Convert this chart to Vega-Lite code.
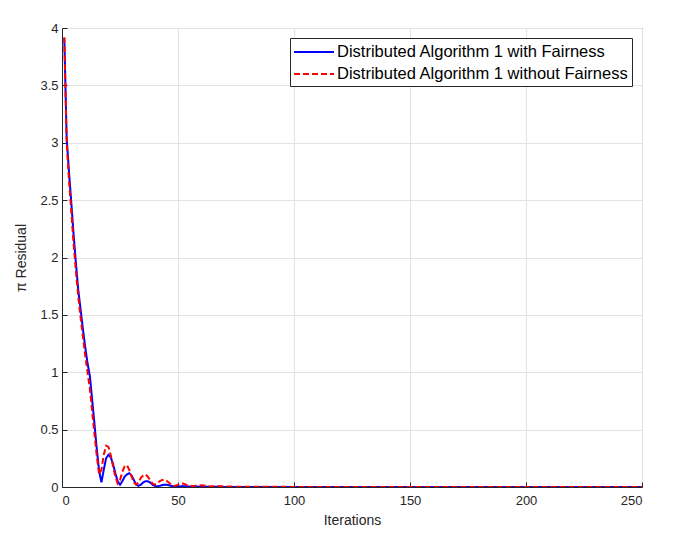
{
  "$schema": "https://vega.github.io/schema/vega-lite/v6.json",
  "autosize": {"type": "none"},
  "width": 580,
  "height": 459,
  "padding": {"left": 62, "top": 28, "right": 47, "bottom": 57},
  "background": "white",
  "config": {
    "font": "Liberation Sans",
    "view": {"stroke": "#262626", "strokeWidth": 1}
  },
  "data": {"values": [
      {"s":"A","it":1,"r":3.91},{"s":"A","it":2,"r":3.05},{"s":"A","it":3,"r":2.75},{"s":"A","it":4,"r":2.48},{"s":"A","it":5,"r":2.2},{"s":"A","it":6,"r":1.95},{"s":"A","it":7,"r":1.72},{"s":"A","it":8,"r":1.55},{"s":"A","it":9,"r":1.38},{"s":"A","it":10,"r":1.22},{"s":"A","it":11,"r":1.08},{"s":"A","it":12,"r":0.97},{"s":"A","it":13,"r":0.76},{"s":"A","it":14,"r":0.55},{"s":"A","it":15,"r":0.33},{"s":"A","it":16,"r":0.14},{"s":"A","it":17,"r":0.04},{"s":"A","it":18,"r":0.15},{"s":"A","it":19,"r":0.25},{"s":"A","it":20,"r":0.28},{"s":"A","it":21,"r":0.26},{"s":"A","it":22,"r":0.2},{"s":"A","it":23,"r":0.12},{"s":"A","it":24,"r":0.05},{"s":"A","it":25,"r":0.02},{"s":"A","it":26,"r":0.05},{"s":"A","it":27,"r":0.09},{"s":"A","it":28,"r":0.11},{"s":"A","it":29,"r":0.12},{"s":"A","it":30,"r":0.1},{"s":"A","it":31,"r":0.06},{"s":"A","it":32,"r":0.02},{"s":"A","it":33,"r":0.01},{"s":"A","it":34,"r":0.02},{"s":"A","it":35,"r":0.04},{"s":"A","it":36,"r":0.05},{"s":"A","it":37,"r":0.05},{"s":"A","it":38,"r":0.04},{"s":"A","it":39,"r":0.02},{"s":"A","it":40,"r":0.01},{"s":"A","it":41,"r":0.005},{"s":"A","it":42,"r":0.01},{"s":"A","it":43,"r":0.015},{"s":"A","it":44,"r":0.02},{"s":"A","it":45,"r":0.02},{"s":"A","it":46,"r":0.015},{"s":"A","it":47,"r":0.01},{"s":"A","it":48,"r":0.005},{"s":"A","it":50,"r":0.003},{"s":"A","it":52,"r":0.008},{"s":"A","it":55,"r":0.004},{"s":"A","it":60,"r":0.003},{"s":"A","it":70,"r":0.001},{"s":"A","it":100,"r":0},{"s":"A","it":150,"r":0},{"s":"A","it":200,"r":0},{"s":"A","it":250,"r":0},
      {"s":"B","it":1,"r":3.92},{"s":"B","it":2,"r":3.0},{"s":"B","it":3,"r":2.68},{"s":"B","it":4,"r":2.4},{"s":"B","it":5,"r":2.12},{"s":"B","it":6,"r":1.88},{"s":"B","it":7,"r":1.66},{"s":"B","it":8,"r":1.48},{"s":"B","it":9,"r":1.31},{"s":"B","it":10,"r":1.15},{"s":"B","it":11,"r":1.0},{"s":"B","it":12,"r":0.86},{"s":"B","it":13,"r":0.66},{"s":"B","it":14,"r":0.46},{"s":"B","it":15,"r":0.27},{"s":"B","it":16,"r":0.11},{"s":"B","it":17,"r":0.15},{"s":"B","it":18,"r":0.28},{"s":"B","it":19,"r":0.36},{"s":"B","it":20,"r":0.35},{"s":"B","it":21,"r":0.28},{"s":"B","it":22,"r":0.18},{"s":"B","it":23,"r":0.09},{"s":"B","it":24,"r":0.03},{"s":"B","it":25,"r":0.06},{"s":"B","it":26,"r":0.13},{"s":"B","it":27,"r":0.18},{"s":"B","it":28,"r":0.19},{"s":"B","it":29,"r":0.15},{"s":"B","it":30,"r":0.09},{"s":"B","it":31,"r":0.04},{"s":"B","it":32,"r":0.02},{"s":"B","it":33,"r":0.04},{"s":"B","it":34,"r":0.08},{"s":"B","it":35,"r":0.1},{"s":"B","it":36,"r":0.11},{"s":"B","it":37,"r":0.09},{"s":"B","it":38,"r":0.06},{"s":"B","it":39,"r":0.03},{"s":"B","it":40,"r":0.02},{"s":"B","it":41,"r":0.03},{"s":"B","it":42,"r":0.05},{"s":"B","it":43,"r":0.06},{"s":"B","it":44,"r":0.065},{"s":"B","it":45,"r":0.055},{"s":"B","it":46,"r":0.04},{"s":"B","it":47,"r":0.02},{"s":"B","it":48,"r":0.01},{"s":"B","it":49,"r":0.01},{"s":"B","it":50,"r":0.02},{"s":"B","it":51,"r":0.03},{"s":"B","it":52,"r":0.03},{"s":"B","it":53,"r":0.025},{"s":"B","it":54,"r":0.015},{"s":"B","it":56,"r":0.008},{"s":"B","it":58,"r":0.012},{"s":"B","it":60,"r":0.015},{"s":"B","it":62,"r":0.01},{"s":"B","it":64,"r":0.005},{"s":"B","it":67,"r":0.008},{"s":"B","it":70,"r":0.005},{"s":"B","it":75,"r":0.003},{"s":"B","it":80,"r":0.002},{"s":"B","it":100,"r":0.001},{"s":"B","it":150,"r":0},{"s":"B","it":250,"r":0}
  ]},
  "mark": {"type": "line", "strokeWidth": 2, "clip": true},
  "encoding": {
    "x": {"field": "it", "type": "quantitative", "scale": {"domain": [0, 250], "nice": false},
      "axis": {"title": "Iterations", "values": [0,50,100,150,200,250], "format": "d", "grid": true, "gridColor": "#e3e3e3", "domainColor": "#262626", "tickColor": "#262626", "tickSize": -5, "labelPadding": 12, "labelFontSize": 13, "labelColor": "#262626", "titleFontSize": 14, "titleFontWeight": "normal", "titleColor": "#262626", "titlePadding": 6}},
    "y": {"field": "r", "type": "quantitative", "scale": {"domain": [0, 4], "nice": false},
      "axis": {"title": "π Residual", "values": [0,0.5,1,1.5,2,2.5,3,3.5,4], "format": "~g", "grid": true, "gridColor": "#e3e3e3", "domainColor": "#262626", "tickColor": "#262626", "tickSize": -5, "labelPadding": 9, "labelFontSize": 13, "labelColor": "#262626", "titleFontSize": 14, "titleFontWeight": "normal", "titleColor": "#262626", "titlePadding": 11}},
    "color": {"field": "s", "type": "nominal",
      "scale": {"domain": ["A", "B"], "range": ["#0000ff", "#ff0000"]},
      "legend": {"title": null, "orient": "top-right", "offset": 10, "strokeColor": "#262626", "fillColor": "white", "padding": 3, "rowPadding": 2, "symbolType": "M-2,0L2,0", "symbolSize": 400, "symbolOffset": 10, "symbolStrokeWidth": 2, "labelFontSize": 16.5, "labelColor": "black", "labelLimit": 400, "labelOffset": 12, "cornerRadius": 0,
        "labelExpr": "datum.label == 'A' ? 'Distributed Algorithm 1 with Fairness' : 'Distributed Algorithm 1 without Fairness'"}},
    "strokeDash": {"field": "s", "type": "nominal",
      "scale": {"domain": ["A", "B"], "range": [[1, 0], [6, 3]]},
      "legend": {"title": null, "orient": "top-right", "offset": 10, "strokeColor": "#262626", "fillColor": "white", "padding": 3, "rowPadding": 2, "symbolType": "M-2,0L2,0", "symbolSize": 400, "symbolOffset": 10, "symbolStrokeWidth": 2, "labelFontSize": 16.5, "labelColor": "black", "labelLimit": 400, "labelOffset": 12, "cornerRadius": 0,
        "labelExpr": "datum.label == 'A' ? 'Distributed Algorithm 1 with Fairness' : 'Distributed Algorithm 1 without Fairness'"}}
  }
}
